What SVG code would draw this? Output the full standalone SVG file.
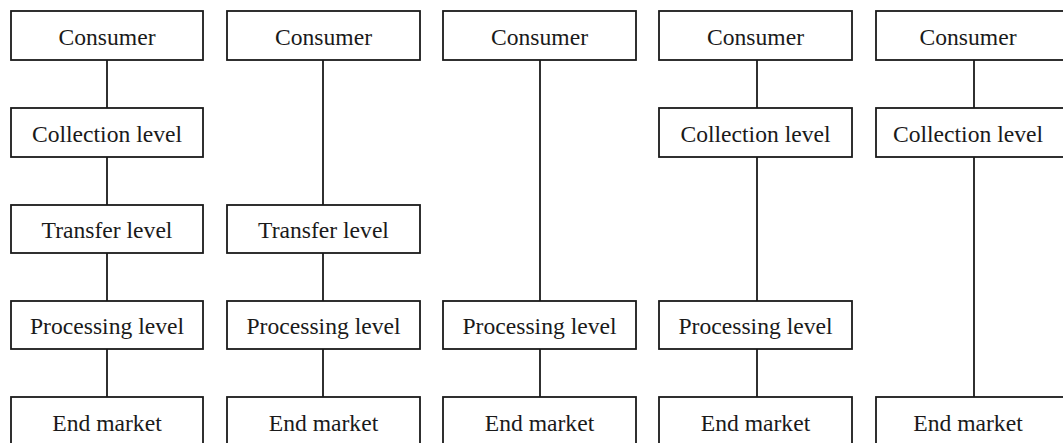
<svg xmlns="http://www.w3.org/2000/svg" width="1063" height="443" viewBox="0 0 1063 443">
  <style>
    .box { fill: #ffffff; stroke: #1a1a1a; stroke-width: 1.8; }
    .lbl { font-family: "Liberation Serif", "Times New Roman", serif; font-size: 23.6px; fill: #1a1a1a; text-anchor: middle; }
    .link { stroke: #1a1a1a; stroke-width: 1.8; fill: none; }
  </style>
  <rect width="1063" height="443" fill="#ffffff"/>

  <!-- connectors: one vertical line per link, in each chain -->
  <g id="connectors">
    <!-- chain 1 -->
    <line class="link" x1="107" y1="60" x2="107" y2="108"/>
    <line class="link" x1="107" y1="157" x2="107" y2="205"/>
    <line class="link" x1="107" y1="253" x2="107" y2="301"/>
    <line class="link" x1="107" y1="349" x2="107" y2="397"/>
    <!-- chain 2 -->
    <line class="link" x1="323" y1="60" x2="323" y2="205"/>
    <line class="link" x1="323" y1="253" x2="323" y2="301"/>
    <line class="link" x1="323" y1="349" x2="323" y2="397"/>
    <!-- chain 3 -->
    <line class="link" x1="540" y1="60" x2="540" y2="301"/>
    <line class="link" x1="540" y1="349" x2="540" y2="397"/>
    <!-- chain 4 -->
    <line class="link" x1="757" y1="60" x2="757" y2="108"/>
    <line class="link" x1="757" y1="157" x2="757" y2="301"/>
    <line class="link" x1="757" y1="349" x2="757" y2="397"/>
    <!-- chain 5 -->
    <line class="link" x1="974" y1="60" x2="974" y2="108"/>
    <line class="link" x1="974" y1="157" x2="974" y2="397"/>
  </g>

  <!-- chain 1 -->
  <g id="c1-consumer"><rect class="box" x="11" y="11" width="192" height="49"/><text class="lbl" x="107" y="45">Consumer</text></g>
  <g id="c1-collection"><rect class="box" x="11" y="108" width="192" height="49"/><text class="lbl" x="107" y="142">Collection level</text></g>
  <g id="c1-transfer"><rect class="box" x="11" y="205" width="192" height="48"/><text class="lbl" x="107" y="238">Transfer level</text></g>
  <g id="c1-processing"><rect class="box" x="11" y="301" width="192" height="48"/><text class="lbl" x="107" y="334">Processing level</text></g>
  <g id="c1-end"><rect class="box" x="11" y="397" width="192" height="52"/><text class="lbl" x="107" y="430.5">End market</text></g>

  <!-- chain 2 -->
  <g id="c2-consumer"><rect class="box" x="227" y="11" width="193" height="49"/><text class="lbl" x="323.5" y="45">Consumer</text></g>
  <g id="c2-transfer"><rect class="box" x="227" y="205" width="193" height="48"/><text class="lbl" x="323.5" y="238">Transfer level</text></g>
  <g id="c2-processing"><rect class="box" x="227" y="301" width="193" height="48"/><text class="lbl" x="323.5" y="334">Processing level</text></g>
  <g id="c2-end"><rect class="box" x="227" y="397" width="193" height="52"/><text class="lbl" x="323.5" y="430.5">End market</text></g>

  <!-- chain 3 -->
  <g id="c3-consumer"><rect class="box" x="443" y="11" width="193" height="49"/><text class="lbl" x="539.5" y="45">Consumer</text></g>
  <g id="c3-processing"><rect class="box" x="443" y="301" width="193" height="48"/><text class="lbl" x="539.5" y="334">Processing level</text></g>
  <g id="c3-end"><rect class="box" x="443" y="397" width="193" height="52"/><text class="lbl" x="539.5" y="430.5">End market</text></g>

  <!-- chain 4 -->
  <g id="c4-consumer"><rect class="box" x="659" y="11" width="193" height="49"/><text class="lbl" x="755.5" y="45">Consumer</text></g>
  <g id="c4-collection"><rect class="box" x="659" y="108" width="193" height="49"/><text class="lbl" x="755.5" y="142">Collection level</text></g>
  <g id="c4-processing"><rect class="box" x="659" y="301" width="193" height="48"/><text class="lbl" x="755.5" y="334">Processing level</text></g>
  <g id="c4-end"><rect class="box" x="659" y="397" width="193" height="52"/><text class="lbl" x="755.5" y="430.5">End market</text></g>

  <!-- chain 5 -->
  <g id="c5-consumer"><rect class="box" x="876" y="11" width="193" height="49"/><text class="lbl" x="968" y="45">Consumer</text></g>
  <g id="c5-collection"><rect class="box" x="876" y="108" width="193" height="49"/><text class="lbl" x="968" y="142">Collection level</text></g>
  <g id="c5-end"><rect class="box" x="876" y="397" width="193" height="52"/><text class="lbl" x="968" y="430.5">End market</text></g>
</svg>
